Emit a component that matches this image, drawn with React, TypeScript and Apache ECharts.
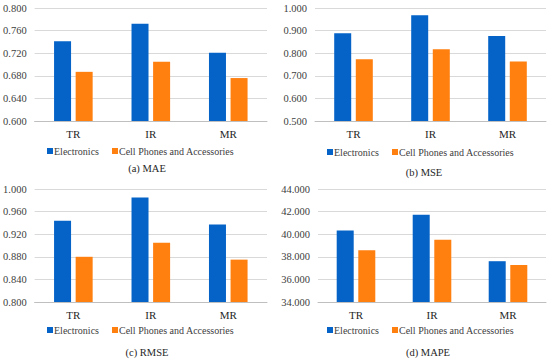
import React, { useEffect, useRef } from "react";
import * as echarts from "echarts";

const categories = ["TR", "IR", "MR"];
const seriesNames = ["Electronics", "Cell Phones and Accessories"];

const maeElectronics = [0.741, 0.772, 0.721];
const maeCell = [0.687, 0.705, 0.676];
const mseElectronics = [0.888, 0.968, 0.876];
const mseCell = [0.773, 0.817, 0.763];
const rmseElectronics = [0.944, 0.985, 0.937];
const rmseCell = [0.88, 0.905, 0.875];
const mapeElectronics = [40.33, 41.72, 37.61];
const mapeCell = [38.59, 39.5, 37.27];

const captions = ["(a) MAE", "(b) MSE", "(c) RMSE", "(d) MAPE"];
const yMins = [0.6, 0.5, 0.8, 34];
const yMaxs = [0.8, 1.0, 1.0, 44];
const yIntervals = [0.04, 0.1, 0.04, 2];

const BLUE = "#0563C8";
const ORANGE = "#FF7F0F";
const FONT = "'Liberation Serif', 'Times New Roman', serif";

export default function App() {
  const ref = useRef<HTMLDivElement>(null);

  useEffect(() => {
    if (!ref.current) return;
    const chart = echarts.init(ref.current, undefined, { renderer: "svg" });

    const grids = [
      { left: 34, top: 8, width: 233, height: 113 },
      { left: 315, top: 8, width: 231, height: 113 },
      { left: 34, top: 189, width: 233, height: 113 },
      { left: 318, top: 189, width: 228, height: 113 },
    ];
    const legendPos = [
      { left: 47, top: 145 },
      { left: 327, top: 146 },
      { left: 47, top: 324 },
      { left: 327, top: 324 },
    ];
    const captionPos = [
      [147, 168],
      [424, 172],
      [147, 352],
      [428, 352],
    ];
    const dataPairs = [
      [maeElectronics, maeCell],
      [mseElectronics, mseCell],
      [rmseElectronics, rmseCell],
      [mapeElectronics, mapeCell],
    ];

    const xAxis = grids.map((_, i) => ({
      type: "category" as const,
      gridIndex: i,
      data: categories,
      axisTick: { show: false },
      axisLine: { lineStyle: { color: "#bfbfbf", width: 1 } },
      axisLabel: {
        color: "#262626",
        fontFamily: FONT,
        fontSize: 11,
        margin: 7,
      },
    }));

    const yAxis = grids.map((_, i) => ({
      type: "value" as const,
      gridIndex: i,
      min: yMins[i],
      max: yMaxs[i],
      interval: yIntervals[i],
      axisLine: { show: false },
      axisTick: { show: false },
      splitLine: { lineStyle: { color: "#d9d9d9", width: 1 } },
      axisLabel: {
        color: "#404040",
        fontFamily: FONT,
        fontSize: 10.5,
        margin: 8,
        formatter: (v: number) => v.toFixed(3),
      },
    }));

    const series: any[] = [];
    dataPairs.forEach((pair, i) => {
      pair.forEach((vals, j) => {
        series.push({
          type: "bar",
          name: seriesNames[j],
          xAxisIndex: i,
          yAxisIndex: i,
          data: vals,
          barWidth: 17,
          barGap: "27%",
          itemStyle: { color: j === 0 ? BLUE : ORANGE },
        });
      });
    });

    const legend = legendPos.map((p) => ({
      left: p.left,
      top: p.top,
      padding: 0,
      itemWidth: 6,
      itemHeight: 6,
      itemGap: 13,
      icon: "rect",
      data: seriesNames,
      selectedMode: false,
      textStyle: {
        color: "#404040",
        fontFamily: FONT,
        fontSize: 10,
        lineHeight: 12,
        padding: [0, 0, 0, -4],
      },
    }));

    const graphic = captions.map((c, i) => ({
      type: "text",
      x: captionPos[i][0],
      y: captionPos[i][1],
      style: {
        text: c,
        fill: "#262626",
        font: `10.5px ${FONT}`,
        textAlign: "center",
        textVerticalAlign: "middle",
      },
    }));

    chart.setOption({
      animation: false,
      backgroundColor: "#ffffff",
      textStyle: { fontFamily: FONT },
      grid: grids,
      xAxis,
      yAxis,
      series,
      legend,
      graphic,
    });

    return () => chart.dispose();
  }, []);

  return (
    <div
      ref={ref}
      style={{ position: "fixed", left: 0, top: 0, width: 550, height: 359 }}
    />
  );
}
